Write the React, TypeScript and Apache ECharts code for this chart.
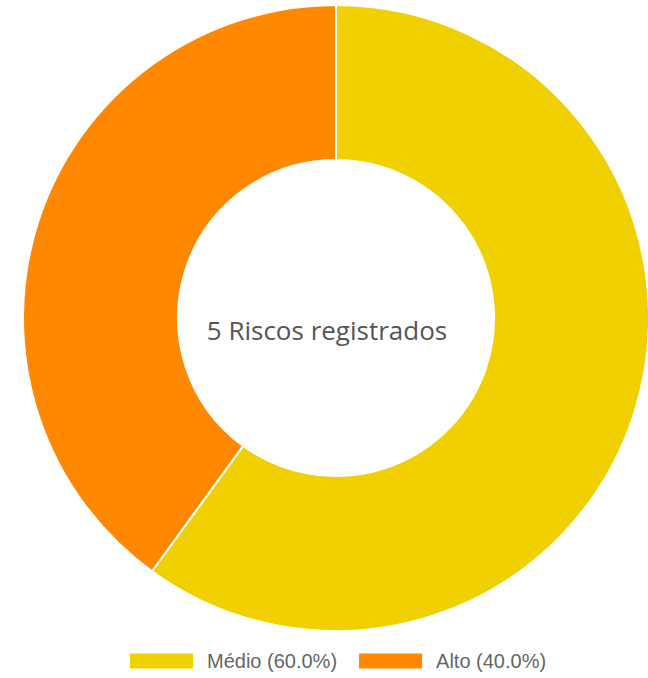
import React, { useEffect, useRef } from "react";
import * as echarts from "echarts";

const categories = ["Médio", "Alto"];
const values = [3, 2];
const colors = ["#f0d000", "#ff8800"];
const centerText = "5 Riscos registrados";

export default function App() {
  const ref = useRef<HTMLDivElement>(null);
  useEffect(() => {
    if (!ref.current) return;
    const chart = echarts.init(ref.current, null, { renderer: "svg" });
    const total = values.reduce((a, b) => a + b, 0);
    chart.setOption({
      animation: false,
      color: colors,
      legend: {
        bottom: 2,
        left: 123,
        itemWidth: 65,
        itemHeight: 17,
        itemGap: 20,
        icon: "rect",
        textStyle: {
          fontFamily: "Liberation Sans, Arial, sans-serif",
          fontSize: 20,
          color: "#666",
          padding: [0, 0, 0, 8],
        },
        formatter: (name: string) => {
          const i = categories.indexOf(name);
          return `${name} (${((values[i] / total) * 100).toFixed(1)}%)`;
        },
        data: categories,
      },
      graphic: [
        {
          type: "text",
          x: 327,
          y: 330,
          style: {
            text: centerText,
            fontFamily: "Open Sans, sans-serif",
            fontSize: 26,
            fill: "#555",
            textAlign: "center",
            textVerticalAlign: "middle",
          },
        },
      ],
      series: [
        {
          type: "pie",
          center: [336, 318],
          radius: [158, 313],
          startAngle: 90,
          clockwise: true,
          label: { show: false },
          labelLine: { show: false },
          emphasis: { disabled: true },
          itemStyle: { borderColor: "#fff", borderWidth: 2 },
          data: categories.map((c, i) => ({ name: c, value: values[i] })),
        },
      ],
    });
    return () => chart.dispose();
  }, []);
  return (
    <div
      ref={ref}
      style={{ position: "absolute", left: 0, top: 0, width: 648, height: 678 }}
    />
  );
}
